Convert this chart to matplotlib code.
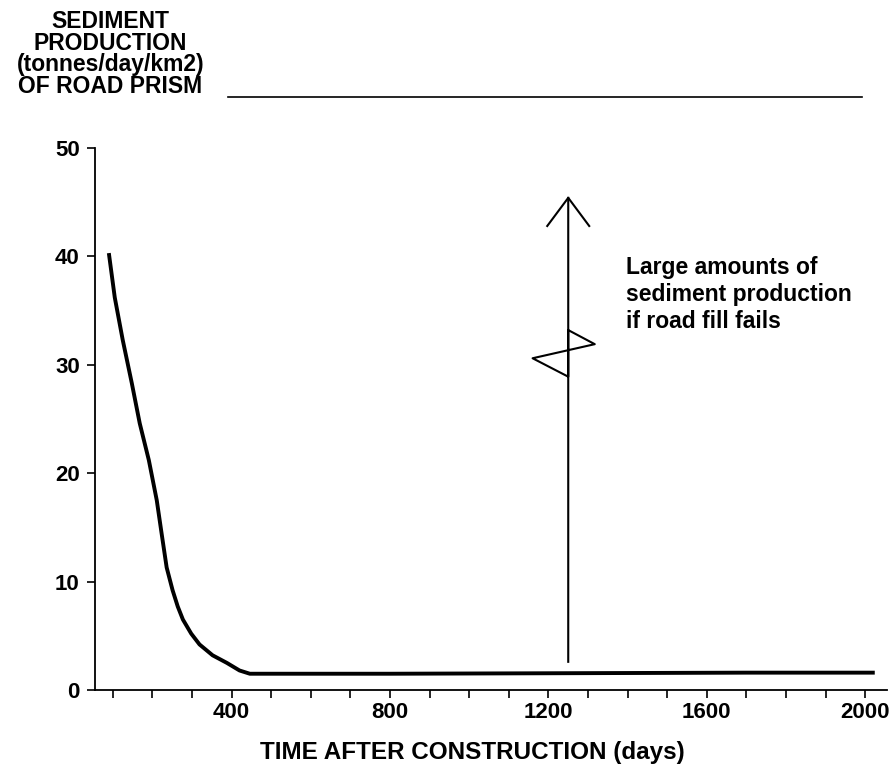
import matplotlib.pyplot as plt
from matplotlib.lines import Line2D

plt.rcParams['font.family'] = ['Liberation Sans', 'DejaVu Sans']
plt.rcParams['font.weight'] = 'bold'

# sediment curve
days = [90, 105, 125, 148, 168, 191, 211, 223, 236, 251, 264, 277, 298, 319, 352, 388, 420, 446, 800, 1250, 1700, 2024]
sediment = [40.3, 36.2, 32.3, 28.3, 24.6, 21.2, 17.5, 14.5, 11.3, 9.2, 7.7, 6.5, 5.2, 4.2, 3.2, 2.5, 1.8, 1.5, 1.5, 1.55, 1.6, 1.6]

# broken arrow (road fill failure)
arrow_days = [1250, 1250, 1317, 1160, 1250, 1250]
arrow_vals = [2.6, 33.2, 31.9, 30.6, 28.9, 45.4]
head_days = [1197, 1250, 1303]
head_vals = [42.8, 45.4, 42.8]

xticks = list(range(100, 2001, 100))
xlabels = [str(t) if t % 400 == 0 else '' for t in xticks]
yticks = [0, 10, 20, 30, 40, 50]

fig = plt.figure(figsize=(8.96, 7.84), dpi=100)
ax = fig.add_axes([0.106, 0.1199, 0.884, 0.6914])

ax.plot(days, sediment, color='black', lw=2.8, solid_capstyle='butt', solid_joinstyle='round')
ax.plot(arrow_days, arrow_vals, color='black', lw=1.5)
ax.plot(head_days, head_vals, color='black', lw=1.5)

ax.text(1395, 40.0, 'Large amounts of\nsediment production\nif road fill fails',
        fontsize=16.5, fontweight='bold', va='top', ha='left', linespacing=1.22)

ax.set_xlim(55, 2055)
ax.set_ylim(0, 50)
ax.set_xticks(xticks)
ax.set_xticklabels(xlabels)
ax.set_yticks(yticks)
ax.tick_params(axis='both', labelsize=16, width=1.2, length=6, direction='out')
ax.tick_params(axis='x', pad=3)
ax.tick_params(axis='y', pad=5)
for lab in ax.get_xticklabels() + ax.get_yticklabels():
    lab.set_fontweight('bold')

ax.spines['top'].set_visible(False)
ax.spines['right'].set_visible(False)
ax.spines['left'].set_linewidth(1.3)
ax.spines['bottom'].set_linewidth(1.3)

ax.set_xlabel('TIME AFTER CONSTRUCTION (days)', fontsize=17.5, fontweight='bold')
ax.xaxis.set_label_coords((472 - 95) / 792, -(752 - 690) / 542)
ax.xaxis.label.set_va('center')

fig.text(0.123, 1 - 10 / 784, 'SEDIMENT\nPRODUCTION\n(tonnes/day/km2)\nOF ROAD PRISM',
         ha='center', va='top', fontsize=16.5, fontweight='bold', linespacing=0.93)
fig.add_artist(Line2D([228 / 896, 862 / 896], [1 - 97 / 784, 1 - 97 / 784], color='black', lw=1.2))

fig.savefig('out.png', dpi=100)
